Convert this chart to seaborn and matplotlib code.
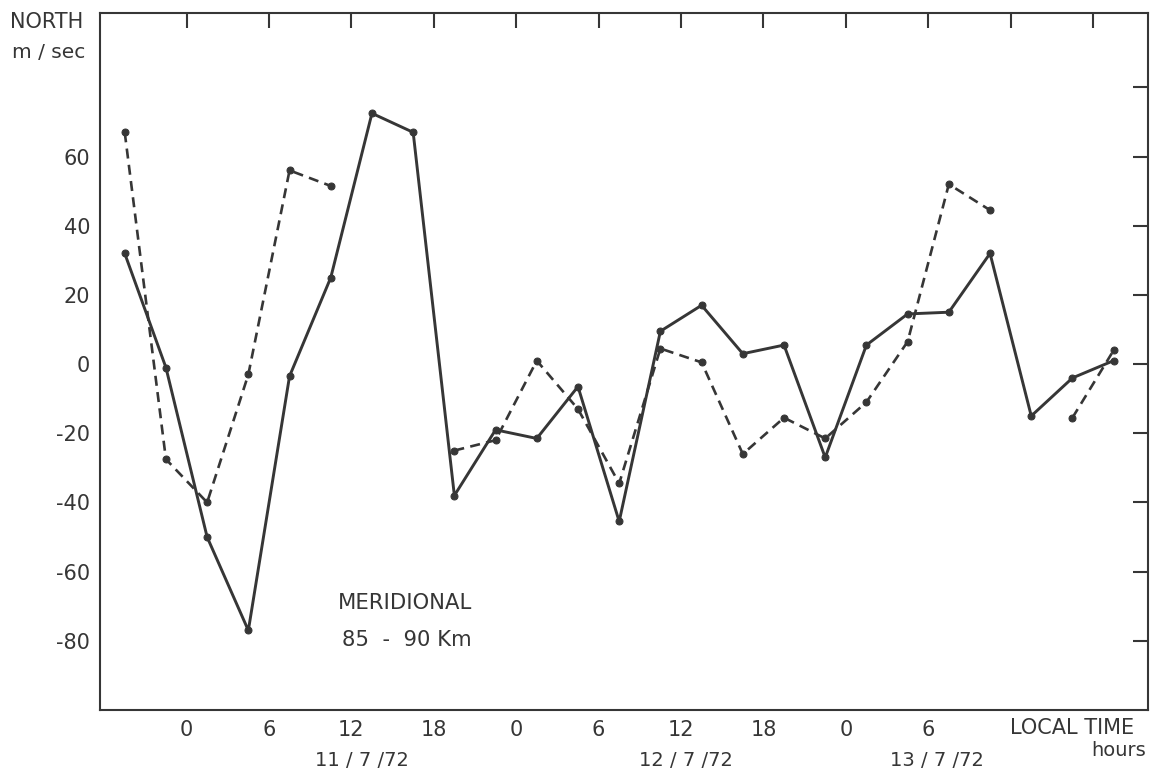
import numpy as np
import pandas as pd
import matplotlib
matplotlib.use("Agg")
import matplotlib.pyplot as plt
import seaborn as sns

# ---- data ----
hours = [-4.5, -1.5, 1.5, 4.5, 7.5, 10.5, 13.5, 16.5, 19.5, 22.5, 25.5, 28.5,
         31.5, 34.5, 37.5, 40.5, 43.5, 46.5, 49.5, 52.5, 55.5, 58.5, 61.5, 64.5, 67.5]
solid_vals = [32, -1, -50, -77, -3.5, 25, 72.5, 67, -38, -19, -21.5, -6.5,
              -45.5, 9.5, 17, 3, 5.5, -27, 5.5, 14.5, 15, 32, -15, -4, 1]
dashed_vals = [67, -27.5, -40, -3, 56, 51.5, np.nan, np.nan, -25, -22, 1, -13,
               -34.5, 4.5, 0.5, -26, -15.5, -21.5, -11, 6.5, 52, 44.5, np.nan, -15.5, 4]

xtick_pos = [0, 6, 12, 18, 24, 30, 36, 42, 48, 54, 60, 66]
xtick_lab = ["0", "6", "12", "18", "0", "6", "12", "18", "0", "6", "", ""]
ytick_pos = [-80, -60, -40, -20, 0, 20, 40, 60, 80]
ytick_lab = ["-80", "-60", "-40", "-20", "0", "20", "40", "60", ""]
date_labels = ["11 / 7 /72", "12 / 7 /72", "13 / 7 /72"]

INK = "#363636"

sns.set_style("white")
plt.rcParams["font.family"] = ["DejaVu Sans"]

df_s = pd.DataFrame({"hour": hours, "v": solid_vals, "seg": 0})
dv = pd.Series(dashed_vals, dtype=float)
seg = dv.isna().cumsum()
df_d = pd.DataFrame({"hour": hours, "v": dv, "seg": seg}).dropna()

W, H = 1153, 778
fig = plt.figure(figsize=(W / 100, H / 100), dpi=100)
ax = fig.add_axes([100 / W, 1 - 710 / H, (1148 - 100) / W, (710 - 13) / H])

sns.lineplot(data=df_s, x="hour", y="v", units="seg", estimator=None, ax=ax,
             color=INK, lw=2.1, marker="o", markersize=5, mec=INK, mfc=INK,
             legend=False, sort=False)
sns.lineplot(data=df_d, x="hour", y="v", units="seg", estimator=None, ax=ax,
             color=INK, lw=1.9, linestyle=(0, (3.8, 2.4)), marker="o",
             markersize=5, mec=INK, mfc=INK, legend=False, sort=False)

ax.set_xlim(-6.3, 70.0)
ax.set_ylim(-100, 101.5)
ax.set_xticks(xtick_pos)
ax.set_xticklabels(xtick_lab)
ax.set_yticks(ytick_pos)
ax.set_yticklabels(ytick_lab)
ax.set_xlabel("")
ax.set_ylabel("")
ax.tick_params(axis="both", direction="in", length=11, width=1.5,
               top=True, right=True, color=INK, labelcolor=INK, labelsize=15)
ax.tick_params(axis="x", pad=7)
ax.tick_params(axis="y", pad=7)
for sp in ax.spines.values():
    sp.set_visible(True)
    sp.set_color(INK)
    sp.set_linewidth(1.5)

def ftext(x, y, s, **kw):
    fig.text(x / W, 1 - y / H, s, color=INK, va="center", **kw)

ftext(10, 22, "NORTH", ha="left", fontsize=15)
ftext(12, 52, "m / sec", ha="left", fontsize=14.5)
ftext(338, 603, "MERIDIONAL", ha="left", fontsize=15.2)
ftext(342, 640, "85  -  90 Km", ha="left", fontsize=15.2)
for xc, s in zip([362, 686, 937], date_labels):
    ftext(xc, 761, s, ha="center", fontsize=14)
ftext(1072, 728, "LOCAL TIME", ha="center", fontsize=15)
ftext(1146, 751, "hours", ha="right", fontsize=14)

fig.savefig("out.png", dpi=100, facecolor="white")
